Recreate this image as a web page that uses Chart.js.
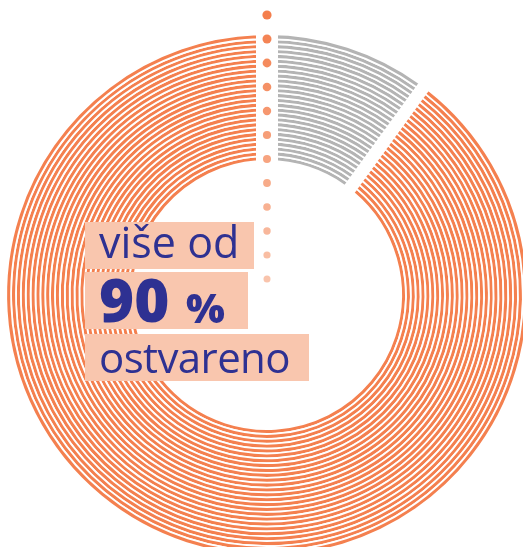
<!DOCTYPE html>
<html>
<head>
<meta charset="utf-8">
<script src="https://cdn.jsdelivr.net/npm/chart.js@4.4.1/dist/chart.umd.min.js"></script>
<style>
  html, body { margin: 0; padding: 0; width: 523px; height: 547px; overflow: hidden; background: #fff; }
  #ChartCanvas1 { position: absolute; left: 0; top: 0; }
  .box { position: absolute; background: #f9c6ae; }
  .txt { position: absolute; color: #2e3192; font-family: "Open Sans", sans-serif; line-height: 1; white-space: nowrap; }
</style>
</head>
<body>
<canvas id="ChartCanvas1" width="534" height="560"></canvas>

<div class="box" style="left:85px;top:222px;width:169px;height:47px"></div>
<div class="box" style="left:85px;top:272px;width:163px;height:57px"></div>
<div class="box" style="left:85px;top:334px;width:224px;height:47px"></div>

<div class="txt" style="left:99px;top:220px;font-size:43px">više od</div>
<div class="txt" style="left:99px;top:269px;font-size:60px;font-weight:800">90</div>
<div class="txt" style="left:186px;top:287px;font-size:41px;font-weight:800">%</div>
<div class="txt" style="left:99px;top:336px;font-size:42px;letter-spacing:-0.6px">ostvareno</div>

<script>
// share of the goal: not reached / reached
const categories = ['nije ostvareno', 'ostvareno'];
const values = [10, 90];
const segmentColors = ['#b4b4b4', '#f4804f'];
const ringCount = 26;

Initialize();

function Initialize()
{
    const ctx = document.getElementById('ChartCanvas1').getContext('2d');

    // every ring is the same split, drawn as thin concentric lines
    const datasets = [];
    for (let i = 0; i < ringCount; i++) {
        datasets.push({
            label: 'ring ' + (i + 1),
            data: values,
            backgroundColor: segmentColors,
            borderColor: '#ffffff',
            borderWidth: 1.8,
            hoverBorderWidth: 1.8,
            hoverOffset: 0,
            offset: 0,
            spacing: 7
        });
    }

    // dotted marker at 12 o'clock
    const topMarker = {
        id: 'topMarker',
        afterDatasetsDraw(chart)
        {
            const arc = chart.getDatasetMeta(0).data[0];
            const c = chart.ctx;
            const cx = arc.x, cy = arc.y;
            c.save();
            c.fillStyle = '#ffffff';
            c.fillRect(cx - 11, 0, 22, cy - 120);
            for (let i = 0; i < 12; i++) {
                const t = i / 11;
                const r = Math.round(244 + (249 - 244) * t);
                const g = Math.round(126 + (196 - 126) * t);
                const b = Math.round(76 + (172 - 76) * t);
                c.fillStyle = 'rgb(' + r + ',' + g + ',' + b + ')';
                c.beginPath();
                c.arc(cx, cy - 280 + i * 24, 4.6 - t * 1.1, 0, Math.PI * 2);
                c.fill();
            }
            c.restore();
        }
    };

    new Chart(ctx,
    {
        type: 'doughnut',
        data: {
            labels: categories,
            datasets: datasets
        },
        options: {
            responsive: false,
            animation: false,
            cutout: '50.76%',
            layout: { padding: { left: 5.3, top: 33.3, right: 5.3, bottom: 3.3 } },
            events: [],
            plugins: {
                legend: { display: false },
                tooltip: { enabled: false }
            }
        },
        plugins: [topMarker]
    });
}
</script>
</body>
</html>
